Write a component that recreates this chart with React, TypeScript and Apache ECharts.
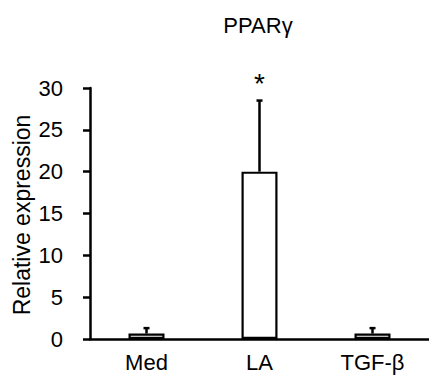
import React, { useEffect, useRef } from "react";
import * as echarts from "echarts";

const categories = ["Med", "LA", "TGF-β"];
const means = [0.65, 20, 0.65];
const errors = [0.65, 8.5, 0.65];
const significance = ["", "*", ""];
const yTicks = { min: 0, max: 30, interval: 5 };

const FONT = "'Liberation Sans', Arial, sans-serif";

export default function App() {
  const ref = useRef<HTMLDivElement>(null);
  useEffect(() => {
    if (!ref.current) return;
    const chart = echarts.init(ref.current, undefined, { renderer: "svg" });
    const errData = categories.map((c, i) => [i, means[i], means[i] + errors[i]]);
    chart.setOption({
      animation: false,
      backgroundColor: "#ffffff",
      grid: { left: 90, right: -3, top: 88, bottom: 39, containLabel: false },
      xAxis: {
        type: "category",
        data: categories,
        axisLine: { lineStyle: { color: "#000", width: 2.5 } },
        axisTick: { show: false },
        axisLabel: { fontFamily: FONT, fontSize: 22, color: "#000", margin: 12 },
      },
      yAxis: {
        type: "value",
        min: yTicks.min,
        max: yTicks.max,
        interval: yTicks.interval,
        splitLine: { show: false },
        axisLine: { show: true, lineStyle: { color: "#000", width: 2.5 } },
        axisTick: { show: true, inside: false, length: 7, lineStyle: { color: "#000", width: 2.5 } },
        axisLabel: { fontFamily: FONT, fontSize: 22, color: "#000", margin: 27 },
      },
      graphic: [
        {
          type: "text",
          x: 258,
          y: 25,
          style: {
            text: "PPARγ",
            fontFamily: FONT,
            fontSize: 22,
            fill: "#000",
            align: "center",
            verticalAlign: "middle",
          },
        },
        {
          type: "text",
          x: 22,
          y: 215,
          rotation: Math.PI / 2,
          style: {
            text: "Relative expression",
            fontFamily: FONT,
            fontSize: 23,
            fill: "#000",
            align: "center",
            verticalAlign: "middle",
          },
        },
      ],
      series: [
        {
          type: "bar",
          data: means,
          barWidth: 36,
          itemStyle: { color: "#ffffff", borderColor: "#000", borderWidth: 2.2 },
          z: 2,
        },
        {
          type: "custom",
          data: errData,
          z: 1,
          renderItem: (params: any, api: any) => {
            const i = api.value(0);
            const base = api.coord([i, api.value(1)]);
            const top = api.coord([i, api.value(2)]);
            const sig = significance[params.dataIndex];
            const children: any[] = [
              { type: "line", shape: { x1: base[0], y1: base[1], x2: top[0], y2: top[1] }, style: { stroke: "#000", lineWidth: 2.5 } },
              { type: "line", shape: { x1: top[0] - 3, y1: top[1], x2: top[0] + 3, y2: top[1] }, style: { stroke: "#000", lineWidth: 2.5 } },
            ];
            if (sig) {
              children.push({
                type: "text",
                x: top[0],
                y: top[1] - 17,
                style: { text: sig, fontFamily: FONT, fontSize: 28, fill: "#000", align: "center", verticalAlign: "middle" },
              });
            }
            return { type: "group", children };
          },
        },
      ],
    });
    return () => chart.dispose();
  }, []);
  return <div ref={ref} style={{ width: 429, height: 378, position: "absolute", left: 0, top: 0 }} />;
}
